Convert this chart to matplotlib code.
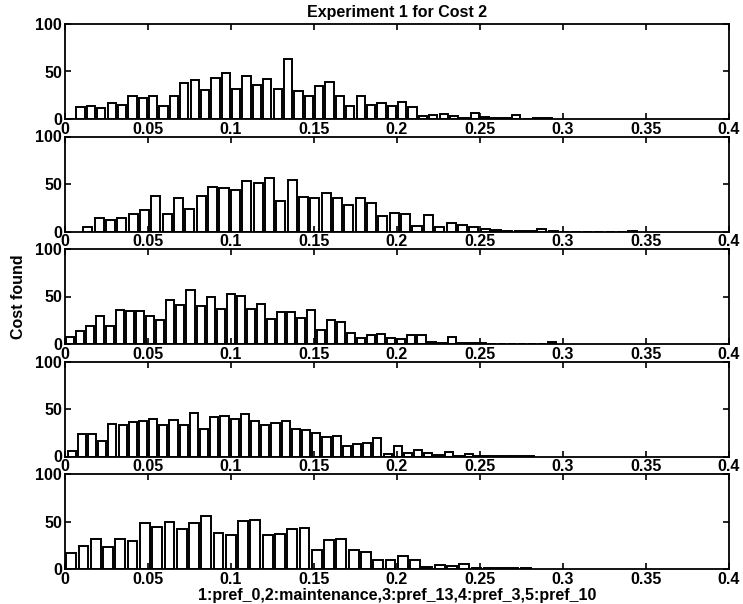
import numpy as np
import matplotlib
matplotlib.use('Agg')
import matplotlib.pyplot as plt

plt.rcParams['font.family'] = ['Liberation Sans', 'DejaVu Sans']
plt.rcParams['font.weight'] = 'bold'

# histogram counts per run (bin k has centre first_center + k*bin_width)
counts1 = [0, 13, 14, 12, 17, 15, 24, 22, 24, 14, 24, 38, 41, 31, 43, 48, 32, 45, 36, 42,
           32, 63, 29, 24, 35, 39, 24, 14, 24, 15, 17, 14, 18, 13, 3, 4, 5, 3, 1, 6,
           2, 1, 1, 4, 0, 1, 1]
counts2 = [5, 14, 12, 14, 18, 23, 37, 18, 35, 24, 37, 47, 46, 44, 53, 51, 56, 32, 54, 36,
           35, 41, 35, 28, 35, 30, 16, 20, 18, 6, 17, 5, 9, 7, 5, 3, 2, 1, 1, 1,
           3, 1, 0, 0, 0, 0, 0, 0, 1]
counts3 = [7, 14, 19, 29, 19, 36, 35, 35, 29, 25, 46, 41, 57, 40, 49, 37, 53, 51, 37, 42,
           26, 34, 34, 27, 36, 15, 25, 23, 12, 6, 9, 11, 6, 5, 9, 10, 2, 1, 7, 1,
           1, 1, 0, 0, 0, 0, 0, 0, 2]
counts4 = [6, 24, 24, 16, 34, 33, 36, 37, 40, 33, 38, 33, 46, 29, 42, 43, 40, 45, 37, 33,
           35, 37, 29, 28, 25, 21, 22, 11, 13, 14, 20, 3, 11, 4, 7, 4, 2, 5, 1, 3,
           1, 1, 1, 1, 1, 1]
counts5 = [17, 24, 32, 23, 32, 30, 48, 44, 49, 42, 48, 56, 38, 36, 51, 52, 36, 37, 42, 43,
           20, 31, 32, 20, 18, 10, 9, 14, 9, 2, 4, 3, 5, 1, 1, 1, 1, 1]

bin_width = [0.00625, 0.00684, 0.00605, 0.00614, 0.0074]
first_center = [0.003125, 0.0137, 0.003, 0.004, 0.0037]

x_ticks = [0, 0.05, 0.1, 0.15, 0.2, 0.25, 0.3, 0.35, 0.4]
x_tick_labels = ['0', '0.05', '0.1', '0.15', '0.2', '0.25', '0.3', '0.35', '0.4']
y_ticks = [0, 50, 100]
y_tick_labels = ['0', '50', '100']

title = 'Experiment 1 for Cost 2'
y_label = 'Cost found'
x_label = '1:pref_0,2:maintenance,3:pref_13,4:pref_3,5:pref_10'

all_counts = [counts1, counts2, counts3, counts4, counts5]

W, H = 743, 604
fig = plt.figure(figsize=(W / 100, H / 100), dpi=100)

left, right = 65, 729
panel_h = 95
bottoms = [119, 231.5, 344, 456.5, 569]

axes = []
for i, counts in enumerate(all_counts):
    b = bottoms[i]
    ax = fig.add_axes([left / W, 1 - b / H, (right - left) / W, panel_h / H])
    centers = first_center[i] + bin_width[i] * np.arange(len(counts))
    ax.bar(centers, counts, width=bin_width[i] * 0.8, color='white',
           edgecolor='black', linewidth=1.4)
    ax.set_xlim(0, 0.4)
    ax.set_ylim(0, 100)
    ax.set_xticks(x_ticks)
    ax.set_xticklabels(x_tick_labels)
    ax.set_yticks(y_ticks)
    ax.set_yticklabels(y_tick_labels)
    ax.tick_params(direction='in', top=True, right=True, length=4, width=1.2,
                   labelsize=11.5, pad=2)
    for s in ax.spines.values():
        s.set_linewidth(1.3)
    axes.append(ax)

axes[0].set_title(title, fontsize=11.5, fontweight='bold', pad=5)
axes[2].set_ylabel(y_label, fontsize=11.5, fontweight='bold', labelpad=7)
axes[4].set_xlabel(x_label, fontsize=11.5, fontweight='bold', labelpad=1)

fig.savefig('out.png', dpi=100)
